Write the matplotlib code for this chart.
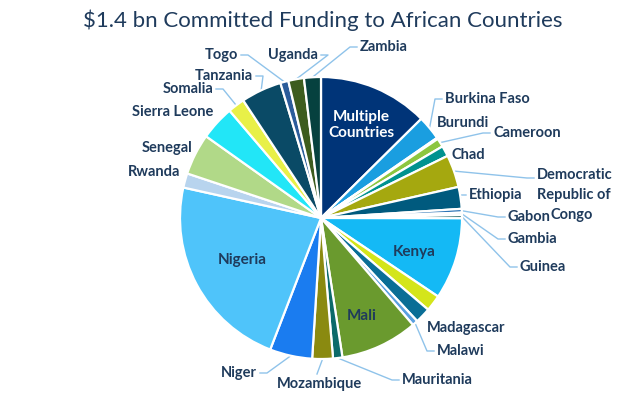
import numpy as np
import matplotlib
matplotlib.use("Agg")
import matplotlib.pyplot as plt

# ---- data ($ millions) ----
countries = ["Multiple Countries", "Burkina Faso", "Burundi", "Cameroon", "Chad",
             "Democratic Republic of Congo", "Ethiopia", "Gabon", "Gambia", "Guinea",
             "Kenya", "Liberia", "Madagascar", "Malawi", "Mali", "Mauritania",
             "Mozambique", "Niger", "Nigeria", "Rwanda", "Senegal", "Sierra Leone",
             "Somalia", "Tanzania", "Togo", "Uganda", "Zambia"]
funding = [176, 39, 2, 14, 17, 52, 35, 6, 4, 5, 131, 26, 25, 9, 124, 15, 33, 68,
           316, 23, 66, 55, 27, 65, 13, 25, 27]
colors = ["#003478", "#1a9ee0", "#5b9bd5", "#8cc63f", "#00928f", "#a5a80f", "#005a7e",
          "#2e75b6", "#bdd7ee", "#004d4d", "#14b9f5", "#d4e51a", "#0a6e96", "#5aa0e0",
          "#6a9a2e", "#0b6a6a", "#8a8a10", "#1a7cf0", "#4fc4fa", "#b8d4ee", "#b1d988",
          "#22e6f7", "#e8f048", "#0a4a66", "#2b5c9a", "#3d5c1e", "#06413f"]
title = "$1.4 bn Committed Funding to African Countries"

W, H = 643, 397
TXT = "#1f3b5c"
LINE = "#8fc3ea"
plt.rcParams['font.family'] = ['Lato', 'DejaVu Sans']

fig = plt.figure(figsize=(W / 100, H / 100), dpi=100)
ax = fig.add_axes([0, 0, 1, 1])
ax.set_xlim(0, W)
ax.set_ylim(0, H)
ax.set_aspect('equal')
ax.axis('off')

cx, cy, R = 321, 218, 141
wedges, _ = ax.pie(funding, colors=colors, startangle=90, counterclock=False,
                   center=(cx, H - cy), radius=R,
                   wedgeprops=dict(edgecolor='white', linewidth=1.6))
ax.set_xlim(0, W)
ax.set_ylim(0, H)

def p(x, y):
    return x, H - y

# label layout: (x, y, ha, leader) in image pixels
layout = {
    "Burkina Faso": (445, 99, 'left', True),
    "Burundi": (437, 123, 'left', False),
    "Cameroon": (493, 133, 'left', True),
    "Chad": (452, 155, 'left', False),
    "Democratic Republic of Congo": (537, 195, 'left', True),
    "Ethiopia": (469, 195, 'left', True),
    "Gabon": (508, 217, 'left', True),
    "Gambia": (508, 239, 'left', True),
    "Guinea": (520, 267, 'left', True),
    "Madagascar": (427, 328, 'left', False),
    "Malawi": (437, 351, 'left', True),
    "Mauritania": (402, 380, 'left', True),
    "Mozambique": (319, 384, 'center', True),
    "Niger": (257, 373, 'right', True),
    "Rwanda": (180, 172, 'right', False),
    "Senegal": (192, 148, 'right', False),
    "Sierra Leone": (213, 112, 'right', False),
    "Somalia": (213, 89, 'right', True),
    "Tanzania": (253, 76, 'right', True),
    "Togo": (238, 55, 'right', True),
    "Uganda": (318, 55, 'right', True),
    "Zambia": (360, 47, 'left', True),
}
# multi-line label drawn line by line: (x, y, ha) per line
drc_lines = [("Democratic", 537, 175, 'left'),
             ("Republic of", 537, 195, 'left'),
             ("Congo", 572, 215, 'center')]
inside = {"Multiple Countries": (361, 125, 'white', "Multiple\nCountries"),
          "Kenya": (414, 252, TXT, "Kenya"),
          "Mali": (362, 316, TXT, "Mali"),
          "Nigeria": (242, 260, TXT, "Nigeria")}

for w, name in zip(wedges, countries):
    theta = np.deg2rad((w.theta1 + w.theta2) / 2)
    if name in inside:
        x, y, c, t = inside[name]
        ax.text(*p(x, y), t, ha='center', va='center', color=c, fontsize=11,
                fontweight='bold', linespacing=1.25)
        continue
    if name not in layout:
        continue
    x, y, ha, leader = layout[name]
    if name == "Democratic Republic of Congo":
        for t, lx, ly, lha in drc_lines:
            ax.text(*p(lx, ly), t, ha=lha, va='center', color=TXT, fontsize=10.5,
                    fontweight='bold')
    else:
        ax.text(*p(x, y), name, ha=ha, va='center', color=TXT, fontsize=10.5,
                fontweight='bold')
    if leader:
        sx = cx + R * np.cos(theta)
        sy = H - cy + R * np.sin(theta)
        if ha == 'left':
            ex, ey = x - 3, y
            if name == "Democratic Republic of Congo":
                ey = 178
            kx = ex - 7
        elif ha == 'right':
            ex, ey = x + 3, y
            kx = ex + 7
        else:
            ex, ey = x - 2, y - 10
            kx = ex
        ax.plot([sx, kx, ex], [sy, H - ey, H - ey], color=LINE, lw=1, zorder=0.5)

ax.text(*p(W / 2 + 1, 20), title, ha='center', va='center', color=TXT, fontsize=16)

fig.savefig("out.png", dpi=100)
